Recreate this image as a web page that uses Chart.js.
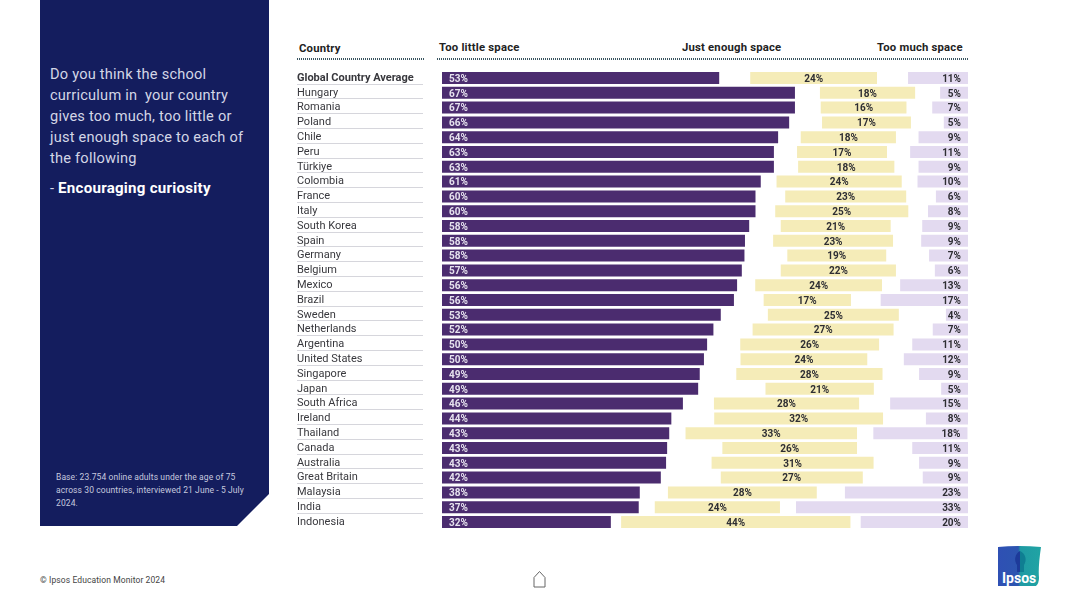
<!DOCTYPE html>
<html><head><meta charset="utf-8">
<script src="https://cdn.jsdelivr.net/npm/chart.js@4"></script>
<style>
html,body{margin:0;padding:0;background:#fff;width:1080px;height:607px;overflow:hidden;font-family:Roboto,sans-serif}
.abs{position:absolute;white-space:nowrap}
#panel{position:absolute;left:40px;top:0;width:229px;height:526px;background:#141d5e;clip-path:polygon(0 0,100% 0,100% 494px,197px 100%,0 100%)}
.q{left:50px;font-size:14.6px;line-height:21px;color:#d3d6e6;font-weight:400;letter-spacing:.22px}
.b{left:56px;font-size:8.5px;line-height:13px;color:#c6c9de;letter-spacing:.1px}
.h{font-size:11.3px;font-weight:700;color:#222;letter-spacing:.2px}
.dot{height:2px;top:58px;background:repeating-linear-gradient(90deg,#3a5560 0 1px,transparent 1px 2px)}
</style></head><body>
<div id="panel"></div>
<div class="abs q" style="top:64px">Do you think the school<br>curriculum in&nbsp; your country<br>gives too much, too little or<br>just enough space to each of<br>the following</div>
<div class="abs q" style="top:178px">- <b style="color:#fff;font-weight:700;font-size:15.1px;letter-spacing:.25px">Encouraging curiosity</b></div>
<div class="abs b" style="top:471px">Base: 23.754 online adults under the age of 75<br>across 30 countries, interviewed 21 June - 5 July<br>2024.</div>
<div class="abs h" style="left:299px;top:42px">Country</div>
<div class="abs h" style="left:439px;top:41px">Too little space</div>
<div class="abs h" style="left:682px;top:41px">Just enough space</div>
<div class="abs h" style="left:877px;top:41px">Too much space</div>
<div class="abs dot" style="left:297px;width:127px"></div>
<div class="abs dot" style="left:437px;width:531px"></div>
<canvas id="c" width="671" height="472" style="position:absolute;left:297px;top:64px"></canvas>
<div class="abs" style="left:40px;top:575px;font-size:8.5px;color:#444;letter-spacing:.1px">© Ipsos Education Monitor 2024</div>
<svg class="abs" style="left:532px;top:570px" width="15" height="18" viewBox="0 0 15 18"><path d="M2 17V7.5L7.5 1.5 13 7.5V17Z" fill="none" stroke="#666" stroke-width="1"/></svg>
<svg class="abs" style="left:997px;top:545px" width="46" height="43" viewBox="0 0 46 43">
<defs><linearGradient id="g" x1="0" x2="1" y1="0" y2="0"><stop offset="0" stop-color="#2f50b4"/><stop offset=".47" stop-color="#2c55b0"/><stop offset=".52" stop-color="#1f9aa3"/><stop offset="1" stop-color="#20a4a4"/></linearGradient></defs>
<path d="M1 2Q22 0 44 2Q41 22 42 33Q42 38 39 41L1 41Z" fill="url(#g)"/>
<path d="M23 6a8 9 0 0 0-3 14v7h3Z" fill="#1d3a9a"/><path d="M23 6a8 9 0 0 1 4 14v7h-4Z" fill="#0f7e92"/>
<text x="5" y="38" font-family="Roboto" font-weight="700" font-size="14" fill="#fff">Ipsos</text></svg>
<script>
const categories = ["Global Country Average","Hungary","Romania","Poland","Chile","Peru","Türkiye","Colombia","France","Italy","South Korea","Spain","Germany","Belgium","Mexico","Brazil","Sweden","Netherlands","Argentina","United States","Singapore","Japan","South Africa","Ireland","Thailand","Canada","Australia","Great Britain","Malaysia","India","Indonesia"];
const tooLittle = [52.7,67.1,67.1,66.0,63.9,63.1,63.1,60.6,59.6,59.6,58.4,57.6,57.5,57.0,56.1,55.5,53.0,51.6,50.4,49.8,49.0,48.7,45.8,43.6,43.2,42.8,42.6,41.6,37.6,37.4,32.1];
const justEnough = [24.1,18.1,16.3,16.9,18.1,17.1,18.3,23.8,23.0,25.3,20.9,22.8,18.8,21.9,24.1,16.6,24.9,26.8,26.4,24.1,27.8,20.6,27.6,32.1,32.6,25.6,30.8,27.0,28.3,23.8,43.6];
const tooMuch = [11.4,5.3,6.8,4.6,9.4,11.0,9.4,9.6,6.1,7.6,8.7,8.9,7.4,6.3,12.9,16.6,4.2,6.7,10.6,12.2,9.3,5.1,14.8,8.0,17.9,10.6,9.3,8.6,23.4,32.7,20.4];
const gapEachSide = [5.9,4.75,4.9,6.25,4.3,4.4,4.6,3.0,5.65,3.75,6.0,5.35,8.15,7.4,3.45,5.65,8.95,7.45,6.3,6.95,6.95,12.8,5.9,8.15,3.1,10.5,8.65,11.4,5.35,3.05,1.95];

const valueLabels = {
  id:'valueLabels',
  afterDatasetsDraw(chart){
    const {ctx} = chart;
    ctx.save(); ctx.font = '700 10px Roboto'; ctx.textBaseline = 'middle';
    chart.data.datasets.forEach((ds,di)=>{
      if(!ds.labelMode) return;
      chart.getDatasetMeta(di).data.forEach((bar,i)=>{
        const t = Math.round(ds.data[i])+'%';
        const left = Math.min(bar.x,bar.base), right = Math.max(bar.x,bar.base);
        ctx.fillStyle = ds.labelColor;
        if(ds.labelMode==='start'){ctx.textAlign='left';ctx.fillText(t,left+7,bar.y+1.2);}
        if(ds.labelMode==='center'){ctx.textAlign='center';ctx.fillText(t,(left+right)/2,bar.y+1.2);}
        if(ds.labelMode==='end'){ctx.textAlign='right';ctx.fillText(t,right-7,bar.y+1.2);}
      });
    });
    ctx.restore();
  }
};
const rowRules = {
  id:'rowRules',
  afterDraw(chart){
    const {ctx,scales:{y}} = chart;
    ctx.save(); ctx.strokeStyle='#d6d6dc'; ctx.lineWidth=1;
    categories.forEach((c,i)=>{
      if(i===categories.length-1) return;
      const p = Math.round(y.getPixelForTick(i)+5.5)+.5;
      ctx.beginPath(); ctx.moveTo(0,p); ctx.lineTo(126,p); ctx.stroke();
    });
    ctx.restore();
  }
};
const bar = (label,data,color,extra)=>Object.assign({label,data,backgroundColor:color,borderWidth:0,barPercentage:.81,categoryPercentage:1},extra||{});
new Chart(document.getElementById('c'),{
  type:'bar',
  data:{labels:categories,datasets:[
    bar('Too little space',tooLittle,'#4b2c6f',{labelMode:'start',labelColor:'#e6e2ee'}),
    bar('gap',gapEachSide,'rgba(0,0,0,0)'),
    bar('Just enough space',justEnough,'#f5ecb8',{labelMode:'center',labelColor:'#2e2e33'}),
    bar('gap',gapEachSide,'rgba(0,0,0,0)'),
    bar('Too much space',tooMuch,'#e3daf0',{labelMode:'end',labelColor:'#2e2e33'})
  ]},
  options:{
    indexAxis:'y',responsive:false,animation:false,
    devicePixelRatio:1,
    layout:{padding:0},
    plugins:{legend:{display:false},tooltip:{enabled:false}},
    scales:{
      x:{stacked:true,min:0,max:100,display:false},
      y:{stacked:true,
        border:{display:false},grid:{display:false,drawTicks:false},
        afterFit(s){s.width=145;},
        ticks:{autoSkip:false,crossAlign:'far',padding:0,color:'#38383d',
          font:c=>c.index===0?{family:'Roboto',size:11,weight:'700'}:{family:'Roboto',size:11,weight:'400'}}
      }
    }
  },
  plugins:[valueLabels,rowRules]
});
</script>
</body></html>
